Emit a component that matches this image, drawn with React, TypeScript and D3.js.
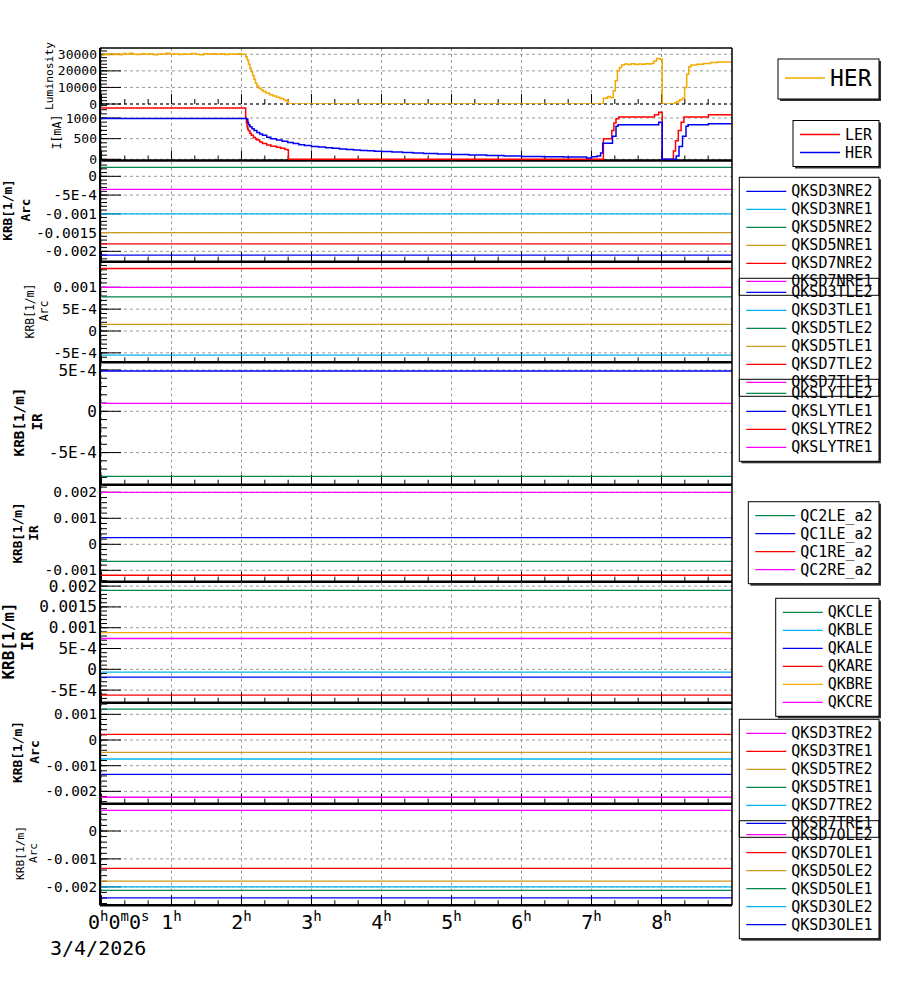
import * as d3 from 'd3';

const FONT = '"DejaVu Sans Mono", monospace';

const BLUE = '#0000f0';
const CYAN = '#00b4ee';
const GREEN = '#00854a';
const GOLD = '#cc9a1e';
const RED = '#ff0000';
const MAGENTA = '#ff00ff';
const ORANGE = '#f2aa00';

// time axis in hours
const X_DOMAIN: [number, number] = [-0.021, 9.007];
const HOUR_TICKS = [0, 1, 2, 3, 4, 5, 6, 7, 8];
const DATE_LABEL = '3/4/2026';

// luminosity [hour, value]
const lumiHER: [number, number][] = [
  [0, 29600], [0.04, 30100], [0.08, 29700], [0.12, 30300], [0.17, 29900], [0.22, 30200],
  [0.26, 29800], [0.3, 30500], [0.35, 30000], [0.4, 30700], [0.45, 30100], [0.5, 29900],
  [0.56, 30300], [0.62, 30000], [0.68, 30400], [0.74, 29800], [0.8, 30200], [0.86, 30000],
  [0.92, 30600], [0.98, 30100], [1.04, 30300], [1.1, 29900], [1.16, 30200], [1.22, 30000],
  [1.28, 30500], [1.34, 30100], [1.4, 29800], [1.46, 30300], [1.52, 30000], [1.58, 30400],
  [1.64, 30100], [1.7, 30300], [1.76, 29900], [1.82, 30200], [1.88, 30000], [1.94, 30400],
  [2.0, 30100], [2.04, 30000], [2.06, 28500], [2.08, 26500], [2.1, 24000], [2.12, 21500],
  [2.14, 19500], [2.16, 17000], [2.18, 15000], [2.2, 12500], [2.22, 10800], [2.25, 9500],
  [2.28, 8500], [2.31, 7600], [2.35, 6600], [2.4, 5600], [2.45, 4800], [2.5, 4000],
  [2.55, 3300], [2.6, 2600], [2.63, 1900], [2.66, 1600], [2.67, 0],
  [7.17, 3500], [7.23, 4500], [7.27, 3800], [7.31, 8000],
  [7.34, 14000], [7.37, 20000], [7.4, 22000], [7.43, 23500], [7.47, 24200], [7.52, 23800],
  [7.57, 24300], [7.62, 23900], [7.67, 24100], [7.72, 24000], [7.77, 24300], [7.82, 24100],
  [7.86, 24600], [7.89, 26000], [7.93, 27500], [7.98, 27000], [8.01, 0], [8.19, 800],
  [8.22, 1500], [8.26, 2500], [8.3, 3500], [8.33, 10000], [8.36, 18000], [8.39, 22500],
  [8.42, 23500], [8.5, 24000], [8.6, 24500], [8.7, 25000], [8.8, 25300], [8.9, 25400],
  [9.0, 25300],
];

// beam currents [hour, mA]
const currentLER: [number, number][] = [
  [0, 1240], [2.05, 1240], [2.06, 1000], [2.07, 880], [2.08, 790], [2.09, 730], [2.1, 690],
  [2.12, 630], [2.14, 580], [2.17, 525], [2.2, 490], [2.22, 465], [2.26, 420], [2.3, 385],
  [2.36, 345], [2.42, 315], [2.5, 290], [2.56, 265], [2.62, 240], [2.66, 225], [2.67, 0],
  [7.17, 500], [7.27, 500], [7.29, 700], [7.32, 880], [7.35, 980], [7.39, 1025], [7.86, 1025],
  [7.9, 1080], [7.96, 1140], [8.01, 0], [8.17, 200], [8.2, 450], [8.24, 700], [8.28, 900],
  [8.32, 1025], [8.67, 1080], [9.0, 1080],
];
const currentHER: [number, number][] = [
  [0, 990], [2.05, 990], [2.07, 975], [2.09, 900], [2.1, 836], [2.12, 790], [2.15, 740],
  [2.18, 700], [2.22, 650], [2.26, 615], [2.3, 580], [2.36, 535], [2.42, 500], [2.5, 465],
  [2.58, 435], [2.66, 405], [2.74, 380], [2.82, 355], [2.9, 335], [3.0, 312], [3.1, 295],
  [3.2, 280], [3.3, 265], [3.4, 250], [3.5, 238], [3.6, 226], [3.7, 215], [3.8, 205],
  [3.9, 197], [4.0, 190], [4.15, 175], [4.3, 162], [4.45, 150], [4.6, 140], [4.8, 128],
  [5.0, 118], [5.25, 105], [5.5, 92], [5.75, 80], [6.0, 68], [6.3, 60], [6.6, 57],
  [6.93, 30], [7.0, 60], [7.08, 80], [7.13, 150], [7.16, 390],
  [7.27, 390], [7.3, 560], [7.35, 800], [7.38, 836], [7.96, 900], [8.01, 0], [8.21, 80],
  [8.25, 310], [8.3, 560], [8.35, 800], [8.38, 836], [8.67, 860], [9.0, 860],
];

// KRB settings [1/m]
const nreNames = ['QKSD3NRE2', 'QKSD3NRE1', 'QKSD5NRE2', 'QKSD5NRE1', 'QKSD7NRE2', 'QKSD7NRE1'];
const nreValues = [-0.0021, -0.001, 0.00024, -0.0015, -0.0018, -0.00035];
const tleNames = ['QKSD3TLE2', 'QKSD3TLE1', 'QKSD5TLE2', 'QKSD5TLE1', 'QKSD7TLE2', 'QKSD7TLE1'];
const tleValues = [-0.0009, -0.00055, 0.00078, 0.000153, 0.00143, 0.001];
const slyNames = ['QKSLYTLE2', 'QKSLYTLE1', 'QKSLYTRE2', 'QKSLYTRE1'];
const slyValues = [-0.000787, 0.000488, 0.0007, 0.000097];
const qcNames = ['QC2LE_a2', 'QC1LE_a2', 'QC1RE_a2', 'QC2RE_a2'];
const qcValues = [-0.000654, 0.000254, -0.00119, 0.002];
const qkNames = ['QKCLE', 'QKBLE', 'QKALE', 'QKARE', 'QKBRE', 'QKCRE'];
const qkValues = [0.0019, -0.00007, -0.00019, -0.00062, 0.00088, 0.00074];
const treNames = ['QKSD3TRE2', 'QKSD3TRE1', 'QKSD5TRE2', 'QKSD5TRE1', 'QKSD7TRE2', 'QKSD7TRE1'];
const treValues = [-0.00223, 0.00022, -0.00048, 0.0012, -0.00074, -0.00134];
const oleNames = ['QKSD7OLE2', 'QKSD7OLE1', 'QKSD5OLE2', 'QKSD5OLE1', 'QKSD3OLE2', 'QKSD3OLE1'];
const oleValues = [0.00074, -0.00134, -0.0018, -0.00213, -0.002, -0.0024];

const SIX = [BLUE, CYAN, GREEN, GOLD, RED, MAGENTA];

type Series = { name: string; color: string; points: [number, number][]; step: boolean };
type Panel = {
  top: number; bottom: number; domain: [number, number];
  ticks: number[]; tickLabels: string[]; minor: number; tickFont: number;
  title: string[]; titleX: number[]; titleY: number; titleSize: number; bold: boolean;
  series: Series[];
  legend: { left: number; top: number; big?: boolean };
};

const flat = (names: string[], values: number[], colors: string[]): Series[] =>
  names.map((n, i) => ({ name: n, color: colors[i], points: [[X_DOMAIN[0], values[i]], [X_DOMAIN[1], values[i]]], step: false }));

const panels: Panel[] = [
  {
    top: 48, bottom: 104, domain: [0, 33800], ticks: [0, 10000, 20000, 30000],
    tickLabels: ['0', '10000', '20000', '30000'], minor: 2000, tickFont: 13,
    title: ['Luminosity'], titleX: [49.5], titleY: 76, titleSize: 11.3, bold: false,
    series: [{ name: 'HER', color: ORANGE, points: lumiHER, step: true }],
    legend: { left: 778, top: 59, big: true },
  },
  {
    top: 105, bottom: 160.5, domain: [-29, 1315], ticks: [0, 500, 1000],
    tickLabels: ['0', '500', '1000'], minor: 100, tickFont: 13,
    title: ['I[mA]'], titleX: [57], titleY: 132, titleSize: 11.5, bold: false,
    series: [
      { name: 'LER', color: RED, points: currentLER, step: true },
      { name: 'HER', color: BLUE, points: currentHER, step: true },
    ],
    legend: { left: 793, top: 120.5 },
  },
  {
    top: 161.5, bottom: 261.7, domain: [-0.002277, 0.000395], ticks: [-0.002, -0.0015, -0.001, -0.0005, 0],
    tickLabels: ['-0.002', '-0.0015', '-0.001', '-5E-4', '0'], minor: 0.0001, tickFont: 14.5,
    title: ['KRB[1/m]', 'Arc'], titleX: [7.5, 25.5], titleY: 210, titleSize: 12.8, bold: true,
    series: flat(nreNames, nreValues, SIX),
    legend: { left: 739.3, top: 177.3 },
  },
  {
    top: 263, bottom: 362.3, domain: [-0.000716, 0.001556], ticks: [-0.0005, 0, 0.0005, 0.001],
    tickLabels: ['-5E-4', '0', '5E-4', '0.001'], minor: 0.0001, tickFont: 14.5,
    title: ['KRB[1/m]', 'Arc'], titleX: [29.5, 44], titleY: 311, titleSize: 11.4, bold: false,
    series: flat(tleNames, tleValues, SIX),
    legend: { left: 739.3, top: 278.3 },
  },
  {
    top: 363.5, bottom: 484.7, domain: [-0.000889, 0.000579], ticks: [-0.0005, 0, 0.0005],
    tickLabels: ['-5E-4', '0', '5E-4'], minor: 0.0001, tickFont: 16,
    title: ['KRB[1/m]', 'IR'], titleX: [19, 37], titleY: 422, titleSize: 14.3, bold: true,
    series: flat(slyNames, slyValues, [GREEN, BLUE, RED, MAGENTA]),
    legend: { left: 739.3, top: 379.3 },
  },
  {
    top: 485.5, bottom: 581.7, domain: [-0.001438, 0.002262], ticks: [-0.001, 0, 0.001, 0.002],
    tickLabels: ['-0.001', '0', '0.001', '0.002'], minor: 0.0002, tickFont: 14.5,
    title: ['KRB[1/m]', 'IR'], titleX: [17, 33.5], titleY: 533, titleSize: 12.7, bold: true,
    series: flat(qcNames, qcValues, [GREEN, BLUE, RED, MAGENTA]),
    legend: { left: 748.3, top: 501.7 },
  },
  {
    top: 582.5, bottom: 702.7, domain: [-0.000803, 0.002087], ticks: [-0.0005, 0, 0.0005, 0.001, 0.0015, 0.002],
    tickLabels: ['-5E-4', '0', '5E-4', '0.001', '0.0015', '0.002'], minor: 0.0001, tickFont: 16,
    title: ['KRB[1/m]', 'IR'], titleX: [8.3, 27.5], titleY: 641, titleSize: 16, bold: true,
    series: flat(qkNames, qkValues, [GREEN, CYAN, BLUE, RED, ORANGE, MAGENTA]),
    legend: { left: 775.7, top: 598.3 },
  },
  {
    top: 703.5, bottom: 803.7, domain: [-0.002481, 0.001422], ticks: [-0.002, -0.001, 0, 0.001],
    tickLabels: ['-0.002', '-0.001', '0', '0.001'], minor: 0.0002, tickFont: 14.3,
    title: ['KRB[1/m]', 'Arc'], titleX: [17, 34.3], titleY: 752, titleSize: 12.9, bold: true,
    series: flat(treNames, treValues, [MAGENTA, RED, GOLD, GREEN, CYAN, BLUE]),
    legend: { left: 739.3, top: 719.3 },
  },
  {
    top: 804.5, bottom: 905.3, domain: [-0.002663, 0.00095], ticks: [-0.002, -0.001, 0],
    tickLabels: ['-0.002', '-0.001', '0'], minor: 0.0002, tickFont: 14.3,
    title: ['KRB[1/m]', 'Arc'], titleX: [20, 33.5], titleY: 853, titleSize: 11.2, bold: false,
    series: flat(oleNames, oleValues, [MAGENTA, RED, GOLD, GREEN, CYAN, BLUE]),
    legend: { left: 739.3, top: 820.7 },
  },
];

const LEFT = 100;
const RIGHT = 732;
const LEG_RIGHT = 879;
const x = d3.scaleLinear().domain(X_DOMAIN).range([LEFT, RIGHT]);
const xMinor = d3.range(0, 27).map((k) => k / 3).filter((t) => t >= X_DOMAIN[0] && t <= X_DOMAIN[1]);

function PanelView({ p, i }: { p: Panel; i: number }) {
  const y = d3.scaleLinear().domain(p.domain).range([p.bottom, p.top]);
  const k0 = Math.ceil(p.domain[0] / p.minor - 1e-6);
  const k1 = Math.floor(p.domain[1] / p.minor + 1e-6);
  const minors = d3.range(k0, k1 + 1).map((k) => k * p.minor);
  const clipId = `clip-${i}`;
  return (
    <g>
      <clipPath id={clipId}>
        <rect x={LEFT} y={p.top} width={RIGHT - LEFT} height={p.bottom - p.top} />
      </clipPath>
      {/* grid */}
      {p.ticks.map((t) => (
        <line key={'gy' + t} x1={LEFT} x2={RIGHT} y1={y(t)} y2={y(t)} stroke="#9a9a9a" strokeDasharray="3,3" />
      ))}
      {HOUR_TICKS.map((h) => (
        <line key={'gx' + h} x1={x(h)} x2={x(h)} y1={p.top} y2={p.bottom} stroke="#9a9a9a" strokeDasharray="3,3" />
      ))}
      {/* y ticks */}
      {minors.map((t) => (
        <line key={'my' + t} x1={LEFT} x2={LEFT + 7} y1={y(t)} y2={y(t)} stroke="#000" />
      ))}
      {p.ticks.map((t) => (
        <line key={'ty' + t} x1={LEFT} x2={LEFT + 21} y1={y(t)} y2={y(t)} stroke="#000" />
      ))}
      {p.ticks.map((t, j) => (
        <text key={'ly' + t} x={97} y={y(t)} textAnchor="end" dominantBaseline="central"
          fontFamily={FONT} fontSize={p.tickFont} fill="#000">{p.tickLabels[j]}</text>
      ))}
      {/* x ticks */}
      {xMinor.map((t) => {
        const major = Math.abs(t - Math.round(t)) < 1e-6;
        return <line key={'tx' + t} x1={x(t)} x2={x(t)} y1={p.bottom} y2={p.bottom - (major ? 10 : 5)} stroke="#000" />;
      })}
      {/* frame */}
      {i === 0 ? (
        <>
          <line x1={LEFT} x2={RIGHT} y1={p.top} y2={p.top} stroke="#000" strokeWidth={1.5} />
          <line x1={LEFT} x2={RIGHT} y1={p.bottom} y2={p.bottom} stroke="#000" strokeDasharray="3,3" />
        </>
      ) : (
        <line x1={LEFT} x2={RIGHT} y1={p.bottom} y2={p.bottom} stroke="#000" strokeWidth={2.5} />
      )}
      {/* data */}
      <g clipPath={`url(#${clipId})`}>
        {p.series.map((s) => {
          const line = d3.line<[number, number]>()
            .x((d) => x(d[0]))
            .y((d) => y(d[1]))
            .curve(s.step ? d3.curveStepAfter : d3.curveLinear);
          return <path key={s.name} d={line(s.points) || ''} fill="none" stroke={s.color} strokeWidth={s.step ? 1.5 : 1.3} />;
        })}
      </g>
      {/* axis title */}
      {p.title.map((t, j) => (
        <text key={'tt' + j} transform={`translate(${p.titleX[j]},${p.titleY}) rotate(-90)`}
          textAnchor="middle" dominantBaseline="central" fontFamily={FONT}
          fontSize={p.titleSize} fontWeight={p.bold ? 'bold' : 'normal'} fill="#000">{t}</text>
      ))}
    </g>
  );
}

function legendBox(p: Panel) {
  const n = p.series.length;
  const h = p.legend.big ? 40 : (n - 1) * 18 + 28;
  return { x: p.legend.left, y: p.legend.top, w: LEG_RIGHT - p.legend.left, h };
}

function LegendBack({ p }: { p: Panel }) {
  const b = legendBox(p);
  return (
    <g>
      <rect x={b.x + 2} y={b.y + 2} width={b.w} height={b.h} fill="#333" />
      <rect x={b.x} y={b.y} width={b.w} height={b.h} fill="#fff" />
    </g>
  );
}

function LegendFront({ p }: { p: Panel }) {
  const b = legendBox(p);
  return (
    <g>
      <rect x={b.x} y={b.y} width={b.w} height={b.h} fill="none" stroke="#000" />
      {p.series.map((s, j) => {
        const cy = p.legend.big ? b.y + 19 : b.y + 14 + j * 18;
        return (
          <g key={s.name}>
            <line x1={b.x + 7} x2={b.x + 47} y1={cy} y2={cy} stroke={s.color} strokeWidth={1.3} />
            <text x={b.x + 52} y={cy} dominantBaseline="central" fontFamily={FONT}
              fontSize={p.legend.big ? 23 : 15} fill="#000">{s.name}</text>
          </g>
        );
      })}
    </g>
  );
}

export default function App() {
  const top = panels[0].top;
  const bottom = panels[panels.length - 1].bottom;
  return (
    <svg width={900} height={984} style={{ position: 'absolute', left: 0, top: 0, background: '#fff' }}>
      <rect x={0} y={0} width={900} height={984} fill="#fff" />
      {panels.map((p, i) => <PanelView key={i} p={p} i={i} />)}
      <line x1={LEFT} x2={LEFT} y1={top} y2={bottom} stroke="#000" strokeWidth={2} />
      <line x1={RIGHT} x2={RIGHT} y1={top} y2={bottom} stroke="#000" strokeWidth={1.5} />
      {/* x labels */}
      {HOUR_TICKS.map((h) =>
        h === 0 ? (
          <text key={h} x={88} y={929} fontFamily={FONT} fontSize={20} fill="#000">
            0<tspan fontSize={14} dy={-8}>h</tspan><tspan dy={8}>0</tspan>
            <tspan fontSize={14} dy={-8}>m</tspan><tspan dy={8}>0</tspan>
            <tspan fontSize={14} dy={-8}>s</tspan>
          </text>
        ) : (
          <text key={h} x={x(h)} y={929} textAnchor="middle" fontFamily={FONT} fontSize={20} fill="#000">
            {h}<tspan fontSize={14} dy={-8}>h</tspan>
          </text>
        )
      )}
      <text x={50} y={955} fontFamily={FONT} fontSize={20} fill="#000">{DATE_LABEL}</text>
      {/* legends */}
      {panels.map((p, i) => <LegendBack key={'lb' + i} p={p} />)}
      {panels.map((p, i) => <LegendFront key={'lf' + i} p={p} />)}
    </svg>
  );
}
